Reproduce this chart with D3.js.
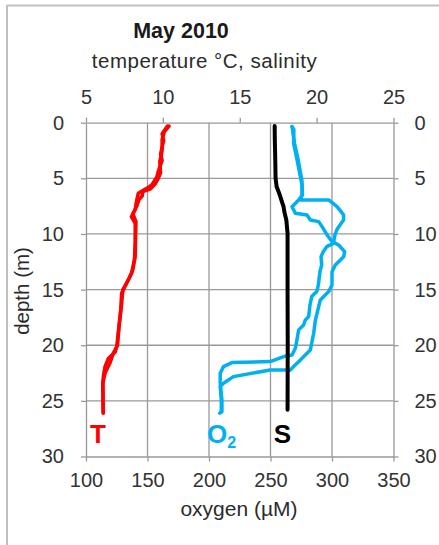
<!DOCTYPE html>
<html>
<head>
<meta charset="utf-8">
<script src="https://cdn.jsdelivr.net/npm/d3@7"></script>
<style>
  html, body { margin: 0; padding: 0; background: #fff; }
  svg { display: block; }
  text { font-family: "Liberation Sans", Arial, sans-serif; fill: #333; }
</style>
</head>
<body>
<svg id="chart" width="439" height="545"></svg>
<script>
// ---- data (depth in m, value) ----
const tempTicks = [5, 10, 15, 20, 25];
const oxyTicks = [100, 150, 200, 250, 300, 350];
const depthTicks = [0, 5, 10, 15, 20, 25, 30];

const tempDown = [[0.3,10.3],[1.0,9.95],[1.6,10.05],[2.8,9.85],[3.4,9.95],[4.3,9.72],[4.9,9.6],[5.6,9.28],[5.9,8.95],[6.35,8.4],[6.95,8.3],[7.8,8.2],[8.45,7.95],[9.05,8.2],[10.8,8.2],[12.3,8.15],[13.5,7.97],[14.4,7.65],[15.3,7.32],[16.8,7.26],[18.6,7.12],[20.1,7.0],[20.6,6.9],[21.2,6.45],[21.9,6.24],[22.8,6.13],[23.4,6.09],[26.1,6.12]];
const tempUp = [[0.3,10.4],[0.8,10.1],[1.5,9.95],[2.5,9.95],[3.5,9.8],[4.5,9.85],[5.0,9.7],[5.5,9.5],[5.95,9.2],[6.2,8.7],[6.6,8.65],[6.9,8.45],[7.5,8.3],[8.2,8.05],[8.9,8.25],[10.5,8.22],[12.0,8.2],[13.2,8.05],[14.0,7.8],[15.0,7.4],[16.5,7.3],[18.3,7.15],[20.0,7.05],[20.7,6.78],[21.6,6.56],[22.5,6.24],[23.4,6.1],[26.1,6.12]];
const salinity = [[0.3,17.27],[1.5,17.28],[3.35,17.31],[5.0,17.33],[5.75,17.4],[6.3,17.55],[6.65,17.64],[7.0,17.72],[7.55,17.85],[8.0,17.9],[8.74,18.03],[9.94,18.11],[15,18.11],[20,18.12],[25.8,18.11]];
const oxyDown = [[0.35,267.5],[0.6,269],[1.85,268.8],[3.35,271.6],[5.15,274.8],[5.6,275.6],[6.5,275.6],[6.94,274.3],[6.94,297.3],[7.55,304.1],[8.29,309.4],[8.74,309.4],[9.19,306.5],[9.64,303.8],[10.09,302.4],[10.84,301.1],[11.14,295.7],[11.59,292.9],[12.04,291.1],[12.79,291.6],[13.39,290.2],[14.58,288.9],[15.18,287.6],[15.63,283.5],[16.38,282.1],[17.43,281],[17.73,278.3],[18.18,276.9],[18.62,272.9],[19.52,271.5],[20.27,270.2],[20.87,267.5],[21.02,260.7],[21.47,249.8],[21.56,218.6],[21.92,211.8],[22.52,209.1],[23.41,209.1],[24.91,210.5],[25.96,210.5],[26.1,208.7]];
const oxyUp = [[0.35,267.5],[1.85,269.5],[3.35,272.5],[5.15,275.5],[6.5,276],[6.94,272.9],[7.55,267.5],[8.14,270.2],[8.29,279.7],[8.74,282.4],[8.89,289.2],[9.34,291.9],[10.09,296],[10.69,300.1],[10.99,305.4],[11.59,310.3],[12.04,309.5],[12.79,302.7],[13.39,300],[14.58,300],[15.18,297.3],[15.93,290.5],[17.73,286.5],[18.92,285.1],[20.42,282.4],[20.72,279.7],[21.32,274.3],[21.92,268.8],[22.22,266.1],[22.22,249.8],[22.82,219.9],[23.41,211.8],[23.72,209.1],[24.9,210],[26.0,210]];

// ---- layout ----
const svg = d3.select("#chart");
const L = 86, R = 393.5, T = 122.7, B = 456.5;
const xTemp = d3.scaleLinear().domain([5, 25]).range([L, R]);
const xOxy = d3.scaleLinear().domain([100, 350]).range([L, R]);
const yDepth = d3.scaleLinear().domain([0, 30]).range([T, B]);
const gridColor = "#999999";
const textColor = "#2b2b2b";

// outer frame
svg.append("line").attr("x1", 7).attr("x2", 439).attr("y1", 5.5).attr("y2", 5.5).attr("stroke", "#c0c0c0").attr("stroke-width", 2);
svg.append("line").attr("x1", 7).attr("x2", 7).attr("y1", 5).attr("y2", 545).attr("stroke", "#c0c0c0").attr("stroke-width", 2);

// gridlines
svg.append("g").selectAll("line").data(depthTicks.filter(d => d > 0 && d < 30)).join("line")
  .attr("x1", L).attr("x2", R).attr("y1", d => yDepth(d)).attr("y2", d => yDepth(d))
  .attr("stroke", gridColor).attr("stroke-width", 1.3);
svg.append("g").selectAll("line").data(oxyTicks.filter(d => d > 100 && d < 350)).join("line")
  .attr("y1", T).attr("y2", B).attr("x1", d => xOxy(d)).attr("x2", d => xOxy(d))
  .attr("stroke", gridColor).attr("stroke-width", 1.3);

function styleAxis(g) {
  g.selectAll("path").attr("stroke", gridColor).attr("stroke-width", 1.3);
  g.selectAll("line").attr("stroke", gridColor).attr("stroke-width", 1.3);
  g.selectAll("text").attr("font-size", 20).attr("fill", textColor)
    .style("font-family", "'Liberation Sans', Arial, sans-serif");
}
const fmt = d3.format("d");
svg.append("g").attr("transform", `translate(0,${T})`)
  .call(d3.axisTop(xTemp).tickValues(tempTicks).tickSize(5).tickSizeOuter(0).tickPadding(14).tickFormat(fmt))
  .call(styleAxis);
svg.append("g").attr("transform", `translate(0,${B})`)
  .call(d3.axisBottom(xOxy).tickValues(oxyTicks).tickSize(5).tickSizeOuter(0).tickPadding(11).tickFormat(fmt))
  .call(styleAxis);
svg.append("g").attr("transform", `translate(${L},0)`)
  .call(d3.axisLeft(yDepth).tickValues(depthTicks).tickSize(5).tickSizeOuter(0).tickPadding(17).tickFormat(fmt))
  .call(styleAxis);
svg.append("g").attr("transform", `translate(${R},0)`)
  .call(d3.axisRight(yDepth).tickValues(depthTicks).tickSize(5).tickSizeOuter(0).tickPadding(16).tickFormat(fmt))
  .call(styleAxis);

// lines
const lineT = d3.line().x(d => xTemp(d[1])).y(d => yDepth(d[0]));
const lineO = d3.line().x(d => xOxy(d[1])).y(d => yDepth(d[0]));
const series = [
  { data: tempDown, gen: lineT, color: "#ff0000", w: 3.5 },
  { data: tempUp, gen: lineT, color: "#ff0000", w: 3.5 },
  { data: oxyDown, gen: lineO, color: "#00b0f0", w: 3.5 },
  { data: oxyUp, gen: lineO, color: "#00b0f0", w: 3.5 },
  { data: salinity, gen: lineT, color: "#000000", w: 4 }
];
svg.append("g").selectAll("path").data(series).join("path")
  .attr("d", s => s.gen(s.data)).attr("fill", "none")
  .attr("stroke", s => s.color).attr("stroke-width", s => s.w)
  .attr("stroke-linejoin", "round").attr("stroke-linecap", "round");

// titles
svg.append("text").attr("x", 181).attr("y", 38).attr("text-anchor", "middle")
  .attr("font-size", 21.5).attr("font-weight", "bold").style("fill", "#1a1a1a").text("May 2010");
svg.append("text").attr("x", 204.5).attr("y", 68).attr("text-anchor", "middle")
  .attr("font-size", 20.5).attr("letter-spacing", 0.5).style("fill", textColor).text("temperature °C, salinity");
svg.append("text").attr("x", 239).attr("y", 516).attr("text-anchor", "middle")
  .attr("font-size", 21).style("fill", textColor).text("oxygen (µM)");
svg.append("text").attr("transform", "translate(29,291) rotate(-90)").attr("text-anchor", "middle")
  .attr("font-size", 20.5).style("fill", textColor).text("depth (m)");

// series labels
svg.append("text").attr("x", 98).attr("y", 443).attr("text-anchor", "middle")
  .attr("font-size", 26).attr("font-weight", "bold").style("fill", "#ff0000").text("T");
const o2 = svg.append("text").attr("x", 207).attr("y", 443)
  .attr("font-size", 26).attr("font-weight", "bold").style("fill", "#00b0f0");
o2.append("tspan").text("O");
o2.append("tspan").attr("font-size", 16).attr("dy", 5).text("2");
svg.append("text").attr("x", 282.5).attr("y", 443).attr("text-anchor", "middle")
  .attr("font-size", 26).attr("font-weight", "bold").style("fill", "#000").text("S");
</script>
</body>
</html>
